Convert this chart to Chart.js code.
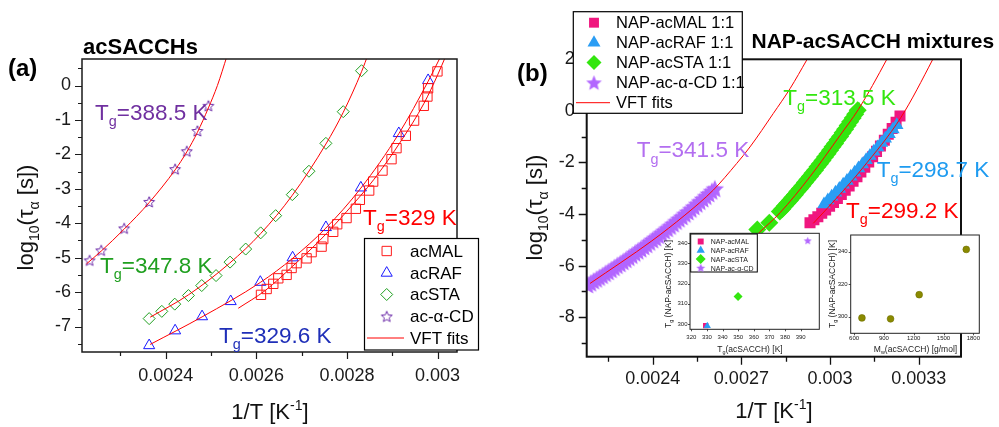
<!DOCTYPE html>
<html>
<head>
<meta charset="utf-8">
<script src="https://cdn.jsdelivr.net/npm/chart.js@4.4.1/dist/chart.umd.min.js"></script>
<style>
  html, body { margin: 0; padding: 0; background: #fff; }
  #wrap { position: relative; width: 999px; height: 427px; overflow: hidden; background: #fff; }
  canvas { position: absolute; }
</style>
</head>
<body>
<div id="wrap">
  <canvas id="chartA" width="500" height="427" style="left:0;top:0"></canvas>
  <canvas id="chartB" width="499" height="427" style="left:500px;top:0"></canvas>
  <canvas id="inset1" width="170" height="132" style="left:655px;top:226px"></canvas>
  <canvas id="inset2" width="164" height="132" style="left:826px;top:226px"></canvas>
</div>
<script>
// ---- panel (a): neat acetylated saccharides ----
const acMAL_x = [0.0026102, 0.0026227, 0.0026374, 0.0026484, 0.0026668, 0.0026778, 0.0026888, 0.0027109, 0.0027220, 0.0027440, 0.0027477, 0.0027697, 0.0027785, 0.0027991, 0.0028197, 0.0028285, 0.0028491, 0.0028579, 0.0028785, 0.0028984, 0.0029094, 0.0029300, 0.0029483, 0.0029696, 0.0029777, 0.0029792, 0.0029998];
const acMAL_y = [-6.08, -5.91, -5.76, -5.60, -5.50, -5.30, -5.16, -5.02, -4.84, -4.68, -4.46, -4.25, -4.03, -3.85, -3.58, -3.32, -3.05, -2.79, -2.47, -2.14, -1.82, -1.46, -1.02, -0.59, -0.32, -0.08, 0.41];
const acRAF_x = [0.0023633, 0.0024206, 0.0024801, 0.0025433, 0.0026087, 0.0026800, 0.0027535, 0.0028307, 0.0029145, 0.0029792];
const acRAF_y = [-7.55, -7.12, -6.71, -6.27, -5.71, -5.00, -4.12, -2.97, -1.39, 0.15];
const acSTA_x = [0.0023633, 0.0023912, 0.0024198, 0.0024500, 0.0024794, 0.0025110, 0.0025419, 0.0025764, 0.0026095, 0.0026426, 0.0026793, 0.0027161, 0.0027535, 0.0027918, 0.0028322];
const acSTA_y = [-6.77, -6.56, -6.35, -6.10, -5.81, -5.52, -5.13, -4.75, -4.28, -3.78, -3.17, -2.49, -1.68, -0.76, 0.43];
const acCD_x = [0.0022317, 0.0022574, 0.0023081, 0.0023633, 0.0024206, 0.0024463, 0.0024698, 0.0024941];
const acCD_y = [-5.08, -4.79, -4.15, -3.38, -2.43, -1.91, -1.32, -0.59];

// VFT fit curves
const fitMAL_x = [0.00256, 0.00262, 0.00268, 0.00274, 0.00280, 0.00286, 0.00292, 0.00297, 0.00300, 0.003018];
const fitMAL_y = [-6.47, -5.95, -5.25, -4.50, -3.65, -2.72, -1.60, -0.52, 0.30, 0.85];
const fitRAF_x = [0.0023655, 0.0024801, 0.0026087, 0.0026800, 0.0027535, 0.0028307, 0.0029145, 0.0029792, 0.0030072];
const fitRAF_y = [-7.52, -6.72, -5.72, -5.02, -4.14, -2.98, -1.40, 0.12, 0.85];
const fitSTA_x = [0.0023655, 0.0024500, 0.0025410, 0.0026095, 0.0026793, 0.0027535, 0.0027918, 0.0028322, 0.0028480];
const fitSTA_y = [-6.73, -6.08, -5.16, -4.30, -3.19, -1.70, -0.78, 0.40, 0.95];
const fitCD_x = [0.0022250, 0.0022574, 0.0023081, 0.0023633, 0.0024206, 0.0024463, 0.0024698, 0.0024941, 0.0025140, 0.0025350];
const fitCD_y = [-5.18, -4.81, -4.17, -3.40, -2.45, -1.93, -1.36, -0.65, 0.00, 0.85];

const xTicksA = [0.0024, 0.0026, 0.0028, 0.003];
const xMinorA = [0.0023, 0.0025, 0.0027, 0.0029];
const yTicksA = [-7, -6, -5, -4, -3, -2, -1, 0];
const yMinorA = [-7.5, -6.5, -5.5, -4.5, -3.5, -2.5, -1.5, -0.5, 0.5];

// ---- panel (b): NAP-acSACCH 1:1 mixtures ----
const napMAL_x = [0.0029322, 0.0029454, 0.0029587, 0.0029719, 0.0029851, 0.0029984, 0.0030116, 0.0030248, 0.0030381, 0.0030513, 0.0030646, 0.0030778, 0.0030910, 0.0031043, 0.0031175, 0.0031307, 0.0031440, 0.0031572, 0.0031704, 0.0031837, 0.0031969, 0.0032101, 0.0032234, 0.0032366];
const napMAL_y = [-4.34, -4.22, -4.10, -3.97, -3.84, -3.70, -3.55, -3.40, -3.24, -3.08, -2.91, -2.73, -2.55, -2.37, -2.18, -1.98, -1.78, -1.57, -1.36, -1.14, -0.91, -0.68, -0.44, -0.20];
const napRAF_x = [0.0029795, 0.0029925, 0.0030054, 0.0030184, 0.0030313, 0.0030443, 0.0030572, 0.0030702, 0.0030831, 0.0030961, 0.0031090, 0.0031220, 0.0031349, 0.0031479, 0.0031608, 0.0031738, 0.0031867, 0.0031997, 0.0032126, 0.0032256];
const napRAF_y = [-3.62, -3.47, -3.32, -3.17, -3.02, -2.86, -2.71, -2.55, -2.39, -2.23, -2.07, -1.91, -1.74, -1.58, -1.41, -1.24, -1.07, -0.90, -0.72, -0.55];
const napSTA_x = [0.0027539, 0.0027945, 0.0028300, 0.0028385, 0.0028470, 0.0028555, 0.0028640, 0.0028725, 0.0028810, 0.0028895, 0.0028980, 0.0029065, 0.0029150, 0.0029235, 0.0029320, 0.0029405, 0.0029490, 0.0029575, 0.0029660, 0.0029745, 0.0029830, 0.0029915, 0.0030000, 0.0030085, 0.0030170, 0.0030255, 0.0030340, 0.0030425, 0.0030510, 0.0030595, 0.0030680, 0.0030765, 0.0030850, 0.0030935];
const napSTA_y = [-4.60, -4.34, -3.90, -3.80, -3.69, -3.58, -3.47, -3.36, -3.25, -3.13, -3.02, -2.90, -2.78, -2.66, -2.54, -2.42, -2.30, -2.17, -2.05, -1.92, -1.79, -1.66, -1.53, -1.39, -1.26, -1.12, -0.99, -0.85, -0.71, -0.57, -0.42, -0.28, -0.13, 0.02];
const napCD_x = [0.00218, 0.00219, 0.00220, 0.00221, 0.00222, 0.00223, 0.00224, 0.00225, 0.00226, 0.00227, 0.00228, 0.00229, 0.00230, 0.00231, 0.00232, 0.00233, 0.00234, 0.00235, 0.00236, 0.00237, 0.00238, 0.00239, 0.00240, 0.00241, 0.00242, 0.00243, 0.00244, 0.00245, 0.00246, 0.00247, 0.00248, 0.00249, 0.00250, 0.00251, 0.00252, 0.00253, 0.00254, 0.00255, 0.00256, 0.00257, 0.00258, 0.00259, 0.00260, 0.00261];
const napCD_y = [-6.75, -6.68, -6.60, -6.53, -6.46, -6.39, -6.31, -6.24, -6.16, -6.08, -6.00, -5.93, -5.85, -5.77, -5.69, -5.61, -5.52, -5.44, -5.36, -5.27, -5.19, -5.10, -5.01, -4.93, -4.84, -4.75, -4.66, -4.57, -4.48, -4.39, -4.29, -4.20, -4.11, -4.01, -3.92, -3.82, -3.72, -3.62, -3.52, -3.42, -3.32, -3.22, -3.12, -3.02];

const fitNapMAL_x = [0.0029433, 0.0030350, 0.0031100, 0.0032400, 0.0033472, 0.0033650];
const fitNapMAL_y = [-4.36, -3.22, -2.22, -0.25, 1.99, 2.40];
const fitNapSTA_x = [0.0027572, 0.0028307, 0.0029322, 0.0030337, 0.0030955, 0.0031916, 0.0032100];
const fitNapSTA_y = [-4.75, -3.95, -2.55, -0.95, 0.05, 1.99, 2.40];
const fitNapCD_x = [0.002188, 0.002397, 0.002509, 0.002605, 0.002684, 0.002729, 0.002808, 0.002865, 0.002921, 0.002940];
const fitNapCD_y = [-6.69, -5.04, -4.04, -3.07, -2.04, -1.40, -0.10, 0.87, 1.97, 2.35];

const xTicksB = [0.0024, 0.0027, 0.003, 0.0033];
const xMinorB = [0.00225, 0.00255, 0.00285, 0.00315];
const yTicksB = [-8, -6, -4, -2, 0, 2];
const yMinorB = [-9, -7, -5, -3, -1, 1];

// ---- insets ----
const tgNeat = [329.2, 330.2, 349.9, 394.5];      // Tg(acSACCH) [K]
const tgMix = [299.2, 299.0, 313.6, 341.3];       // Tg(NAP-acSACCH) [K]
const mwSacch = [679, 967, 1255, 1729];          // Mw(acSACCH) [g/mol]
const tgMixMw = [299.2, 298.6, 313.5, 341.4];
const xTicksI1 = [320, 330, 340, 350, 360, 370, 380, 390];
const yTicksI1 = [300, 310, 320, 330, 340];
const xTicksI2 = [600, 900, 1200, 1500, 1800];
const yTicksI2 = [300, 320, 340];

const FONT = '"Liberation Sans", Arial, sans-serif';
const RED = '#ff0000';
const PINK = '#f0177f', LBLUE = '#2a9df4', LGREEN = '#33e60f', VIOLET = '#b266ff';

function pts(xs, ys) {
  return xs.map((x, i) => ({ x, y: ys[i] }));
}

function makeStar(size, fill, stroke, lw) {
  const c = document.createElement('canvas');
  c.width = c.height = size;
  const g = c.getContext('2d');
  const r = size / 2 - (lw || 0) - 0.3, ri = r * 0.45;
  const cx = size / 2, cy = size / 2 + r * 0.08;
  g.beginPath();
  for (let i = 0; i < 10; i++) {
    const a = -Math.PI / 2 + i * Math.PI / 5;
    const rr = i % 2 ? ri : r;
    g.lineTo(cx + rr * Math.cos(a), cy + rr * Math.sin(a));
  }
  g.closePath();
  if (fill) { g.fillStyle = fill; g.fill(); }
  if (stroke) { g.strokeStyle = stroke; g.lineWidth = lw; g.stroke(); }
  return c;
}

const starA = makeStar(14, null, '#6b2aa8', 1);
const starB = makeStar(20, VIOLET, null, 0);
const starBL = makeStar(17, VIOLET, null, 0);
const starI = makeStar(9, VIOLET, null, 0);
const starIL = makeStar(10, VIOLET, null, 0);

function fitSet(label, xs, ys) {
  return {
    label, data: pts(xs, ys), showLine: true, fill: false,
    borderColor: RED, borderWidth: 1, pointRadius: 0, pointHoverRadius: 0,
    cubicInterpolationMode: 'monotone', order: 0,
  };
}

function markSet(label, xs, ys, style, radius, fill, stroke, bw, order) {
  return {
    label, data: pts(xs, ys), showLine: false,
    pointStyle: style, pointRadius: radius, pointHoverRadius: radius,
    pointBackgroundColor: fill, pointBorderColor: stroke, pointBorderWidth: bw,
    order,
  };
}

const fmt = (v) => String(+Number(v).toFixed(5));

function axis(min, max, ticks, size, pad, key, val) {
  return {
    type: 'linear', min, max,
    grid: { display: false, drawTicks: false },
    border: { display: false },
    ticks: { font: { family: FONT, size }, color: '#1a1a1a', padding: pad, autoSkip: false, maxRotation: 0, callback: fmt },
    afterBuildTicks: (s) => { s.ticks = ticks.map((v) => ({ value: v })); },
    afterFit: (s) => { s[key] = val; },
  };
}

// text with sub/superscripts, drawn on the chart canvas
function richText(ctx, t) {
  const weight = t.bold ? 'bold ' : '';
  const pieces = t.parts.map(([s, m]) => {
    const fs = m === 'n' ? t.size : t.size * 0.64;
    ctx.font = `${weight}${fs}px ${FONT}`;
    return { s, m, fs, w: ctx.measureText(s).width };
  });
  const total = pieces.reduce((a, p) => a + p.w, 0);
  ctx.save();
  ctx.translate(t.x, t.y);
  if (t.rotate) ctx.rotate(-Math.PI / 2);
  let cx = t.align === 'center' ? -total / 2 : 0;
  ctx.fillStyle = t.color || '#000';
  ctx.textAlign = 'left';
  ctx.textBaseline = 'alphabetic';
  pieces.forEach((p) => {
    ctx.font = `${weight}${p.fs}px ${FONT}`;
    const dy = p.m === 'sub' ? t.size * 0.28 : p.m === 'sup' ? -t.size * 0.42 : 0;
    ctx.fillText(p.s, cx, dy);
    cx += p.w;
  });
  ctx.restore();
}

function drawLegend(chart, L) {
  const ctx = chart.ctx;
  ctx.save();
  ctx.fillStyle = '#fff';
  ctx.fillRect(L.x, L.y, L.w, L.h);
  ctx.strokeStyle = '#000';
  ctx.lineWidth = L.lw;
  ctx.strokeRect(L.x, L.y, L.w, L.h);
  L.rows.forEach((r, i) => {
    const ds = chart.data.datasets.find((d) => d.label === r.label);
    const y = L.rowY[i];
    if (ds.showLine) {
      ctx.strokeStyle = ds.borderColor;
      ctx.lineWidth = ds.borderWidth;
      ctx.beginPath();
      ctx.moveTo(L.lineX[0], y);
      ctx.lineTo(L.lineX[1], y);
      ctx.stroke();
    } else {
      ctx.fillStyle = ds.pointBackgroundColor;
      ctx.strokeStyle = ds.pointBorderColor;
      ctx.lineWidth = ds.pointBorderWidth;
      Chart.helpers.drawPoint(ctx, {
        pointStyle: r.style || ds.pointStyle, radius: r.radius || ds.pointRadius,
        rotation: 0, borderWidth: ds.pointBorderWidth,
      }, L.markX, y);
    }
    ctx.fillStyle = L.color || '#000';
    ctx.font = `${L.size}px ${FONT}`;
    ctx.textAlign = 'left';
    ctx.textBaseline = 'middle';
    ctx.fillText(r.text || r.label, L.textX, y + 1);
  });
  ctx.restore();
}

const decor = {
  id: 'decor',
  beforeDatasetsDraw(chart, args, o) {
    if (!o.areaFill) return;
    const a = chart.chartArea;
    chart.ctx.save();
    chart.ctx.fillStyle = o.areaFill;
    chart.ctx.fillRect(a.left, a.top, a.right - a.left, a.bottom - a.top);
    chart.ctx.restore();
  },
  afterDraw(chart, args, o) {
    const ctx = chart.ctx, a = chart.chartArea;
    const sx = chart.scales.x, sy = chart.scales.y;
    ctx.save();
    ctx.strokeStyle = o.frameColor;
    ctx.lineWidth = o.frameWidth;
    ctx.strokeRect(a.left, a.top, a.right - a.left, a.bottom - a.top);
    const t = o.ticks;
    ctx.lineWidth = t.width;
    ctx.beginPath();
    const mark = (vals, len, horiz) => vals.forEach((v) => {
      if (horiz) {
        const px = Math.round(sx.getPixelForValue(v)) + 0.5;
        ctx.moveTo(px, a.bottom);
        ctx.lineTo(px, a.bottom + len);
      } else {
        const py = Math.round(sy.getPixelForValue(v)) + 0.5;
        ctx.moveTo(a.left, py);
        ctx.lineTo(a.left - len, py);
      }
    });
    mark(t.xMajor, t.major, true);
    mark(t.xMinor || [], t.minor, true);
    mark(t.yMajor, t.major, false);
    mark(t.yMinor || [], t.minor, false);
    ctx.stroke();
    ctx.restore();
    (o.texts || []).forEach((tx) => richText(ctx, tx));
    if (o.legend) drawLegend(chart, o.legend);
  },
};

const Tg = (v) => [['T', 'n'], ['g', 'sub'], ['=' + v + ' K', 'n']];
const yTitle = [['log', 'n'], ['10', 'sub'], ['(τ', 'n'], ['α', 'sub'], [' [s])', 'n']];
const xTitle = [['1/T [K', 'n'], ['-1', 'sup'], [']', 'n']];

// ---------- panel (a) ----------
new Chart(document.getElementById('chartA'), {
  type: 'scatter',
  data: {
    datasets: [
      fitSet('VFT fits', fitMAL_x, fitMAL_y),
      fitSet('fitRAF', fitRAF_x, fitRAF_y),
      fitSet('fitSTA', fitSTA_x, fitSTA_y),
      fitSet('fitCD', fitCD_x, fitCD_y),
      markSet('acMAL', acMAL_x, acMAL_y, 'rect', 6.6, 'rgba(0,0,0,0)', '#ff1a1a', 1, 1),
      markSet('acRAF', acRAF_x, acRAF_y, 'triangle', 6.4, 'rgba(0,0,0,0)', '#1a1aff', 1, 1),
      markSet('acSTA', acSTA_x, acSTA_y, 'rectRot', 6, 'rgba(0,0,0,0)', '#1f9f1f', 1, 1),
      markSet('ac-α-CD', acCD_x, acCD_y, starA, 6, 'rgba(0,0,0,0)', '#6b2aa8', 1, 1),
    ],
  },
  options: {
    animation: false, responsive: false, devicePixelRatio: 1,
    layout: { padding: { left: 0, right: 43, top: 59, bottom: 0 } },
    plugins: {
      legend: { display: false }, tooltip: { enabled: false },
      decor: {
        frameColor: '#1a1a1a', frameWidth: 1.5,
        ticks: { xMajor: xTicksA, xMinor: xMinorA, yMajor: yTicksA, yMinor: yMinorA, major: 7, minor: 4, width: 1.2 },
        texts: [
          { parts: [['(a)', 'n']], x: 8, y: 76, size: 24, bold: true },
          { parts: [['acSACCHs', 'n']], x: 83, y: 53.5, size: 22, bold: true },
          { parts: Tg('388.5'), x: 95, y: 119.5, size: 22.5, color: '#7030a0' },
          { parts: Tg('347.8'), x: 100, y: 272.5, size: 22.5, color: '#1f9f1f' },
          { parts: Tg('329'), x: 363, y: 225, size: 22.5, color: '#ff0000' },
          { parts: Tg('329.6'), x: 219, y: 343, size: 22.5, color: '#1f2fb8' },
          { parts: yTitle, x: 33, y: 217.5, size: 22, rotate: true, align: 'center', color: '#111' },
          { parts: xTitle, x: 270, y: 419, size: 22, align: 'center', color: '#111' },
        ],
        legend: {
          x: 364.5, y: 238.5, w: 114, h: 111.5, lw: 1.2, size: 17,
          markX: 386.7, textX: 410, lineX: [367, 404],
          rowY: [251, 273, 294.5, 316.5, 338],
          rows: [{ label: 'acMAL' }, { label: 'acRAF' }, { label: 'acSTA' }, { label: 'ac-α-CD' }, { label: 'VFT fits' }],
        },
      },
    },
    scales: {
      x: axis(0.002215, 0.003043, xTicksA, 18, 13, 'height', 75),
      y: axis(-7.74, 0.77, yTicksA, 18, 11, 'width', 82),
    },
  },
  plugins: [decor],
});

// ---------- panel (b) ----------
new Chart(document.getElementById('chartB'), {
  type: 'scatter',
  data: {
    datasets: [
      fitSet('VFT fits', fitNapMAL_x, fitNapMAL_y),
      fitSet('fitNapSTA', fitNapSTA_x, fitNapSTA_y),
      fitSet('fitNapCD', fitNapCD_x, fitNapCD_y),
      markSet('NAP-acRAF 1:1', napRAF_x, napRAF_y, 'triangle', 7.8, LBLUE, LBLUE, 0, 1),
      markSet('NAP-acMAL 1:1', napMAL_x, napMAL_y, 'rect', 7.8, PINK, PINK, 0, 2),
      markSet('NAP-acSTA 1:1', napSTA_x, napSTA_y, 'rectRot', 9, LGREEN, LGREEN, 0, 2),
      markSet('NAP-ac-α-CD 1:1', napCD_x, napCD_y, starB, 9, VIOLET, VIOLET, 0, 2),
    ],
  },
  options: {
    animation: false, responsive: false, devicePixelRatio: 1,
    layout: { padding: { left: 0, right: 38, top: 59.3, bottom: 0 } },
    plugins: {
      legend: { display: false }, tooltip: { enabled: false },
      decor: {
        frameColor: '#111', frameWidth: 2,
        ticks: { xMajor: xTicksB, xMinor: xMinorB, yMajor: yTicksB, yMinor: yMinorB, major: 8, minor: 5, width: 1.3 },
        texts: [
          { parts: [['(b)', 'n']], x: 17, y: 81, size: 24, bold: true },
          { parts: [['NAP-acSACCH mixtures', 'n']], x: 251.5, y: 48.3, size: 21, bold: true },
          { parts: Tg('313.5'), x: 283.3, y: 105, size: 22.5, color: LGREEN },
          { parts: Tg('341.5'), x: 136.7, y: 157.3, size: 22.5, color: '#b36ef0' },
          { parts: Tg('298.7'), x: 376.7, y: 176.7, size: 22.5, color: '#1e9bf0' },
          { parts: Tg('299.2'), x: 346, y: 217.7, size: 22.5, color: '#ff0000' },
          { parts: yTitle, x: 41.7, y: 207.5, size: 22, rotate: true, align: 'center', color: '#111' },
          { parts: xTitle, x: 274, y: 418, size: 22, align: 'center', color: '#111' },
        ],
        legend: {
          x: 73.3, y: 11.7, w: 169, h: 101.6, lw: 1.2, size: 16.5,
          markX: 94, textX: 116, lineX: [76, 110],
          rowY: [22.7, 42.7, 62.5, 82.7, 102.7],
          rows: [
            { label: 'NAP-acMAL 1:1', radius: 7 }, { label: 'NAP-acRAF 1:1', radius: 7.5 },
            { label: 'NAP-acSTA 1:1', radius: 7.5 }, { label: 'NAP-ac-α-CD 1:1', style: starBL },
            { label: 'VFT fits' },
          ],
        },
      },
    },
    scales: {
      x: axis(0.0021767, 0.003443, xTicksB, 18, 12, 'height', 70.3),
      y: axis(-9.53, 2.0, yTicksB, 18, 12, 'width', 86.7),
    },
  },
  plugins: [decor],
});

// ---------- inset 1: Tg(mixture) vs Tg(acSACCH) ----------
const insetTitleY = [['T', 'n'], ['g', 'sub'], [' (NAP-acSACCH) [K]', 'n']];
new Chart(document.getElementById('inset1'), {
  type: 'scatter',
  data: {
    datasets: [
      markSet('NAP-acRAF', [tgNeat[1]], [tgMix[1]], 'triangle', 4.2, LBLUE, LBLUE, 0, 0),
      markSet('NAP-acMAL', [tgNeat[0]], [tgMix[0]], 'rect', 3.8, PINK, PINK, 0, 1),
      markSet('NAP-acSTA', [tgNeat[2]], [tgMix[2]], 'rectRot', 4.5, LGREEN, LGREEN, 0, 1),
      markSet('NAP-ac-α-CD', [tgNeat[3]], [tgMix[3]], starI, 4.5, VIOLET, VIOLET, 0, 1),
    ],
  },
  options: {
    animation: false, responsive: false, devicePixelRatio: 1,
    layout: { padding: { left: 0, right: 5.7, top: 7.3, bottom: 0 } },
    plugins: {
      legend: { display: false }, tooltip: { enabled: false },
      decor: {
        areaFill: '#fff', frameColor: '#222', frameWidth: 1,
        ticks: { xMajor: xTicksI1, yMajor: yTicksI1, major: 2, minor: 0, width: 0.8 },
        texts: [
          { parts: insetTitleY, x: 16, y: 58, size: 8.5, rotate: true, align: 'center', color: '#222' },
          { parts: [['T', 'n'], ['g', 'sub'], ['(acSACCH) [K]', 'n']], x: 95, y: 126, size: 8.5, align: 'center', color: '#222' },
        ],
        legend: {
          x: 35.7, y: 8, w: 66.6, h: 38, lw: 1, size: 7, color: '#222',
          markX: 45.7, textX: 55.7, lineX: [0, 0],
          rowY: [15.5, 24.3, 33, 41.8],
          rows: [
            { label: 'NAP-acMAL', radius: 4.2 }, { label: 'NAP-acRAF', radius: 4.8 },
            { label: 'NAP-acSTA', radius: 5 }, { label: 'NAP-ac-α-CD', style: starIL },
          ],
        },
      },
    },
    scales: {
      x: axis(319.15, 401.9, xTicksI1, 6, 4.5, 'height', 28.7),
      y: axis(297.36, 344.96, yTicksI1, 6, 2.5, 'width', 35),
    },
  },
  plugins: [decor],
});

// ---------- inset 2: Tg(mixture) vs Mw ----------
new Chart(document.getElementById('inset2'), {
  type: 'scatter',
  data: {
    datasets: [
      markSet('Tg vs Mw', mwSacch, tgMixMw, 'circle', 3.4, '#8a8a00', '#6f6f00', 0.6, 1),
    ],
  },
  options: {
    animation: false, responsive: false, devicePixelRatio: 1,
    layout: { padding: { left: 0, right: 10.7, top: 9, bottom: 0 } },
    plugins: {
      legend: { display: false }, tooltip: { enabled: false },
      decor: {
        areaFill: '#fff', frameColor: '#222', frameWidth: 1,
        ticks: { xMajor: xTicksI2, yMajor: yTicksI2, major: 2, minor: 0, width: 0.8 },
        texts: [
          { parts: insetTitleY, x: 8.5, y: 58, size: 8.5, rotate: true, align: 'center', color: '#222' },
          { parts: [['M', 'n'], ['w', 'sub'], ['(acSACCH) [g/mol]', 'n']], x: 89.5, y: 125.7, size: 8.5, align: 'center', color: '#222' },
        ],
      },
    },
    scales: {
      x: axis(566, 1860, xTicksI2, 6, 1.5, 'height', 24.7),
      y: axis(289.7, 350.3, yTicksI2, 6, 3, 'width', 24.7),
    },
  },
  plugins: [decor],
});
</script>
</body>
</html>
